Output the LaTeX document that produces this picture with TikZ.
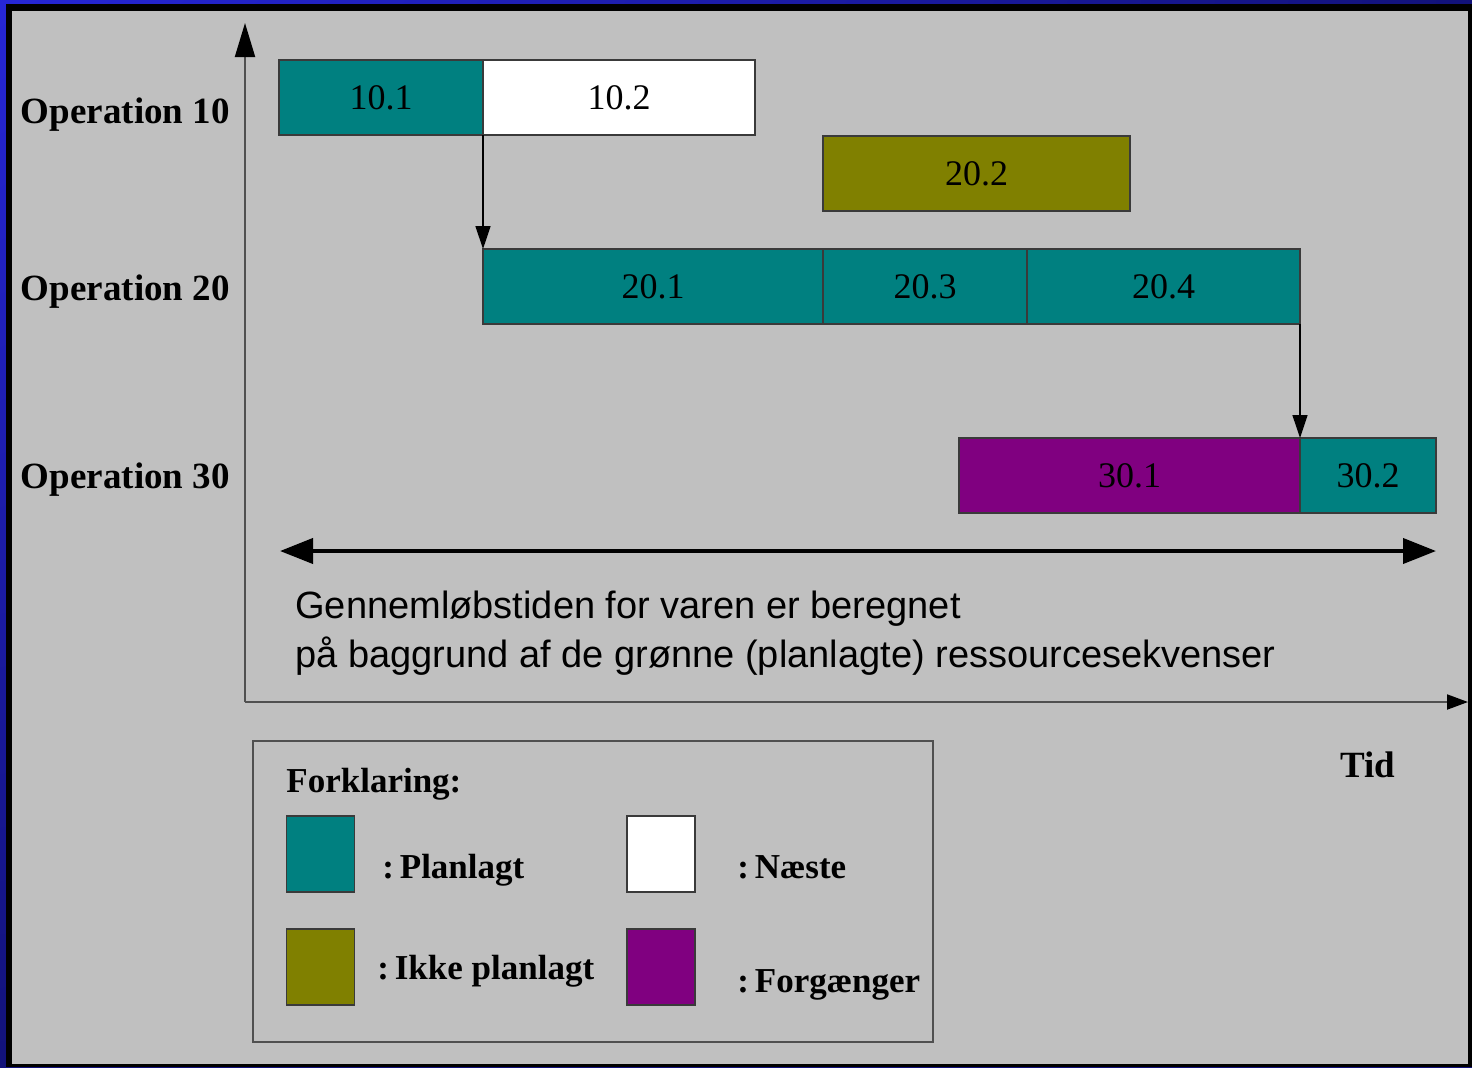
\documentclass[tikz,border=0pt]{standalone}
\usepackage{fontspec}
\setmainfont{Liberation Serif}
\newfontfamily\capfont{Liberation Sans}
\usetikzlibrary{positioning,arrows.meta,shadings}
\definecolor{bgray}{HTML}{C0C0C0}
\definecolor{planteal}{HTML}{008080}
\definecolor{unplanolive}{HTML}{808000}
\definecolor{predpurple}{HTML}{800080}
\definecolor{framenavy}{HTML}{12127A}
\definecolor{frameblue}{HTML}{2626D6}
\definecolor{edgegray}{HTML}{3A3A3A}
\definecolor{axisgray}{HTML}{505050}

\tikzset{
  task/.style={draw=edgegray, line width=0.7pt, inner sep=0pt, outer sep=0pt,
    minimum height=37.5pt, font=\fontsize{18}{20}\selectfont},
  planned/.style={task, fill=planteal},
  nextop/.style={task, fill=white},
  unplanned/.style={task, fill=unplanolive},
  pred/.style={task, fill=predpurple},
  oplabel/.style={anchor=base east, inner sep=0pt, font=\bfseries\fontsize{18.5}{20}\selectfont},
  legtext/.style={anchor=base west, inner sep=0pt, font=\bfseries\fontsize{17.5}{20}\selectfont},
  captext/.style={anchor=base west, inner sep=0pt, font=\capfont\fontsize{19}{22}\selectfont},
  swatch/.style={draw=edgegray, line width=0.7pt, inner sep=0pt, minimum width=34pt, minimum height=38pt},
}

\begin{document}
\begin{tikzpicture}[x=0.5pt, y=-0.5pt]
    \useasboundingbox (0,0) rectangle (1472,1067);
    % frame and background
    \shade[upper left=frameblue, upper right=framenavy, lower left=framenavy, lower right=framenavy]
        (0,0) rectangle (1472,1067);
    \fill[black] (6,4) rectangle (1472,1067);
    \fill[bgray] (12,11) rectangle (1468,1064);

    % axes
    \coordinate (origin) at (245,702);
    \coordinate (ytip) at (245,23);
    \coordinate (xtip) at (1468,702);
    \draw[axisgray, line width=1pt, -{Triangle[length=17pt, width=10pt, color=black]}] (origin) -- (ytip);
    \draw[axisgray, line width=1pt, -{Triangle[length=10.5pt, width=7.5pt, color=black]}] (origin) -- (xtip);

    % operation labels
    \node[oplabel] (op10) at (230,123) {Operation 10};
    \node[oplabel] (op20) at (230,300) {Operation 20};
    \node[oplabel] (op30) at (230,488) {Operation 30};

    % resource sequences
    \node[planned, minimum width=102pt] (b101) at (381,97.5) {10.1};
    \node[nextop, minimum width=136pt, right=0pt of b101] (b102) {10.2};
    \node[unplanned, minimum width=153.5pt] (b202) at (976.5,173.5) {20.2};
    \node[planned, minimum width=170pt] (b201) at (653,286.5) {20.1};
    \node[planned, minimum width=102pt, right=0pt of b201] (b203) {20.3};
    \node[planned, minimum width=136.5pt, right=0pt of b203] (b204) {20.4};
    \node[pred, minimum width=170.5pt] (b301) at (1129.5,475.5) {30.1};
    \node[planned, minimum width=68pt, right=0pt of b301] (b302) {30.2};

    \draw[black, line width=0.7pt, -{Triangle[length=11.5pt, width=7.5pt]}] (b101.south east) -- (b201.north west);
    \draw[black, line width=0.7pt, -{Triangle[length=11.5pt, width=7.5pt]}] (b204.south east) -- (b301.north east);

    % lead time
    \coordinate (spanL) at (280,551);
    \coordinate (spanR) at (1436,551);
    \draw[black, line width=2pt, {Triangle[length=16.5pt, width=12.5pt]}-{Triangle[length=16.5pt, width=12.5pt]}] (spanL) -- (spanR);
    \node[captext] (lead1) at (295,618) {Gennemløbstiden for varen er beregnet};
    \node[captext] (lead2) at (295,667) {på baggrund af de grønne (planlagte) ressourcesekvenser};

    \node[legtext, font=\bfseries\fontsize{18.5}{20}\selectfont] (tid) at (1340,777) {Tid};

    % legend
    \node[draw=axisgray, line width=0.8pt, inner sep=0pt, minimum width=340pt, minimum height=150.5pt] (legend) at (593,891.5) {};
    \node[legtext] (forkl) at (286,792) {Forklaring:};
    \node[swatch, fill=planteal] (swPlan) at (320.5,854) {};
    \node[swatch, fill=white] (swNext) at (661,854) {};
    \node[swatch, fill=unplanolive] (swUnplan) at (320.5,967) {};
    \node[swatch, fill=predpurple] (swPred) at (661,967) {};
    \node[legtext] (txPlan) at (382,878) {:\,Planlagt};
    \node[legtext] (txNext) at (737,878) {:\,Næste};
    \node[legtext] (txUnplan) at (377,979) {:\,Ikke planlagt};
    \node[legtext] (txPred) at (737,992) {:\,Forgænger};
\end{tikzpicture}
\end{document}
